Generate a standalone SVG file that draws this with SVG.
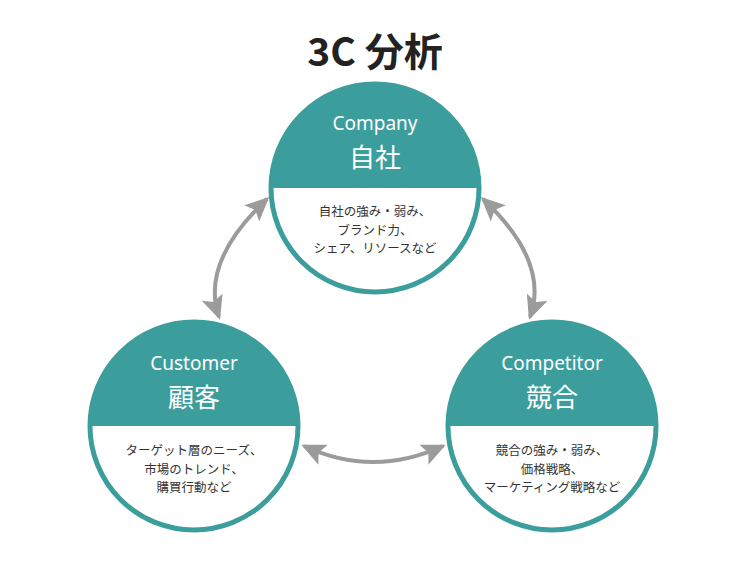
<svg xmlns="http://www.w3.org/2000/svg" width="750" height="563" viewBox="0 0 750 563">
<style>
.title{font-family:"Noto Sans CJK JP","Noto Sans",sans-serif;font-weight:bold;font-size:39px;fill:#222;text-anchor:middle}
.ring{fill:#fff;stroke:#3c9e9c;stroke-width:5}
.cap{fill:#3c9e9c}
.en{font-family:"Noto Sans","Noto Sans CJK JP",sans-serif;font-size:19px;fill:#fff;text-anchor:middle}
.jp{font-family:"Noto Sans CJK JP",sans-serif;font-size:26px;fill:#fff;text-anchor:middle}
.body{font-family:"Noto Sans CJK JP",sans-serif;font-size:12.5px;fill:#333;text-anchor:middle}
.arr{fill:none;stroke:#9b9b9b;stroke-width:4;marker-start:url(#head);marker-end:url(#head)}
</style>
<defs>
<marker id="head" viewBox="0 0 24 22" refX="21" refY="11" markerWidth="24" markerHeight="22" markerUnits="userSpaceOnUse" orient="auto-start-reverse">
<path d="M0,0 L24,11 L0,22 L5,11 Z" fill="#9b9b9b"/>
</marker>
</defs>
<rect width="750" height="563" fill="#fff"/>
<text class="title" x="375" y="66">3C 分析</text>
<g id="connectors">
<path class="arr" d="M267,199 Q200,262 219,317"/>
<path class="arr" d="M483,199 Q550,262 530,317"/>
<path class="arr" d="M304,446 Q373,478 443,446"/>
</g>
<g id="company">
<circle class="ring" cx="375" cy="188" r="104"/>
<path class="cap" d="M271,188 A104,104 0 0 1 479,188 Z"/>
<text class="en" x="375" y="130">Company</text>
<text class="jp" x="375" y="167">自社</text>
<text class="body" x="375" y="216">自社の強み・弱み、</text>
<text class="body" x="375" y="234.5">ブランド力、</text>
<text class="body" x="375" y="253">シェア、リソースなど</text>
</g>
<g id="customer">
<circle class="ring" cx="194" cy="426" r="104"/>
<path class="cap" d="M90,426 A104,104 0 0 1 298,426 Z"/>
<text class="en" x="194" y="370">Customer</text>
<text class="jp" x="194" y="407">顧客</text>
<text class="body" x="194" y="455">ターゲット層のニーズ、</text>
<text class="body" x="194" y="473.5">市場のトレンド、</text>
<text class="body" x="194" y="492">購買行動など</text>
</g>
<g id="competitor">
<circle class="ring" cx="552" cy="426" r="104"/>
<path class="cap" d="M448,426 A104,104 0 0 1 656,426 Z"/>
<text class="en" x="552" y="370">Competitor</text>
<text class="jp" x="552" y="407">競合</text>
<text class="body" x="552" y="455">競合の強み・弱み、</text>
<text class="body" x="552" y="473.5">価格戦略、</text>
<text class="body" x="552" y="492">マーケティング戦略など</text>
</g>
</svg>
